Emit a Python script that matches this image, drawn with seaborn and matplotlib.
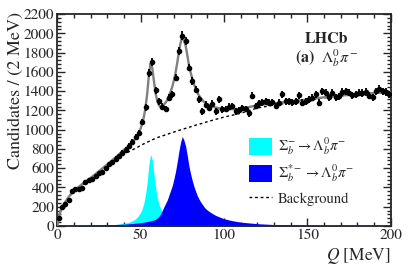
import matplotlib
matplotlib.use('Agg')
import numpy as np
import matplotlib.pyplot as plt
import seaborn as sns
from matplotlib.patches import Patch
from matplotlib.lines import Line2D
from matplotlib.ticker import MultipleLocator

# Данные: число кандидатов в бинах по 2 МэВ (центры бинов 1, 3, ..., 199)
q_bins = np.arange(1, 200, 2)
counts = [85, 195, 230, 265, 360, 380, 385, 395, 455, 480,
          490, 515, 545, 560, 600, 640, 660, 700, 725, 760,
          790, 830, 870, 925, 970, 1080, 1230, 1585, 1700, 1410,
          1295, 1240, 1215, 1330, 1365, 1540, 1815, 1975, 1920, 1645,
          1505, 1415, 1315, 1190, 1260, 1225, 1270, 1190, 1315, 1210,
          1215, 1240, 1245, 1190, 1205, 1225, 1215, 1170, 1350, 1245,
          1275, 1285, 1295, 1280, 1285, 1245, 1280, 1365, 1295, 1295,
          1285, 1295, 1355, 1280, 1295, 1315, 1330, 1365, 1280, 1400,
          1385, 1335, 1385, 1335, 1345, 1390, 1400, 1385, 1355, 1365,
          1385, 1380, 1390, 1350, 1335, 1400, 1425, 1400, 1390, 1365]

# Компоненты фита
q_curve = [0, 1, 2, 3, 4, 6, 8, 10, 12, 15, 20, 25, 30, 35, 40, 42, 44, 46, 48,
           50, 51, 52, 53, 54, 55, 56, 57, 58, 59, 60, 61, 62, 63, 64, 65, 66, 67, 68, 69,
           70, 71, 72, 73, 74, 75, 76, 77, 78, 79, 80, 81, 82, 83, 84, 85, 86, 87, 88, 89, 90,
           92, 95, 100, 105, 110, 120, 130, 140, 150, 160, 170, 180, 190, 200]
background = [0, 95, 155, 195, 225, 275, 320, 355, 385, 425, 485, 550, 615, 680, 745, 762, 780, 798, 816,
              835, 845, 853, 862, 870, 878, 886, 894, 902, 910, 917, 923, 929, 935, 940, 946, 952, 958, 964, 969,
              975, 981, 986, 992, 997, 1003, 1008, 1014, 1019, 1025, 1030, 1035, 1040, 1046, 1051, 1056, 1061, 1066, 1072, 1077, 1082,
              1092, 1107, 1130, 1150, 1170, 1225, 1255, 1280, 1305, 1330, 1350, 1365, 1378, 1390]
sigma_b = [0, 0, 0, 0, 0, 1, 2, 2, 3, 4, 5, 8, 11, 16, 27, 34, 45, 62, 90,
           140, 180, 240, 330, 460, 640, 745, 690, 540, 400, 300, 230, 180, 145, 120, 100, 85, 72, 62, 55,
           48, 44, 40, 37, 34, 32, 30, 28, 26, 25, 24, 23, 22, 21, 20, 19, 18, 17, 16, 15.5, 15,
           14, 12, 9, 7, 6, 4, 3, 2, 1, 1, 0, 0, 0, 0]
sigma_b_star = [0, 1, 1, 2, 2, 3, 4, 5, 5, 6, 8, 10, 12, 15, 19, 21, 24, 27, 31,
                35, 37, 40, 43, 46, 50, 54, 58, 63, 70, 82, 100, 125, 160, 200, 235, 270, 320, 370, 420,
                490, 570, 670, 780, 870, 930, 890, 830, 730, 620, 540, 470, 410, 360, 315, 280, 250, 225, 200, 180, 165,
                140, 110, 75, 55, 40, 24, 15, 10, 7, 5, 4, 3, 2, 2]

total_fit = np.array(background) + np.array(sigma_b) + np.array(sigma_b_star)

sns.set_style('ticks')
plt.rcParams['font.family'] = ['STIXGeneral', 'Liberation Serif', 'DejaVu Serif']
plt.rcParams['mathtext.fontset'] = 'stix'

fig = plt.figure(figsize=(4.11, 2.70), dpi=100)
ax = fig.add_axes([0.139, 0.163, 0.812, 0.785])

ax.fill_between(q_curve, 0, sigma_b, color='#00ffff', lw=0, zorder=1)
ax.fill_between(q_curve, 0, sigma_b_star, color='#0000ff', lw=0, zorder=1.5)
sns.lineplot(x=q_curve, y=background, ax=ax, color='black', lw=1.0,
             linestyle=(0, (2, 2)), zorder=2)
sns.lineplot(x=q_curve, y=total_fit, ax=ax, color='#808080', lw=1.7, zorder=3)
ax.errorbar(q_bins, counts, yerr=np.sqrt(counts), xerr=1, fmt='o', ms=3.0,
            color='black', elinewidth=1.3, capsize=0, zorder=4)

ax.set_xlim(0, 200)
ax.set_ylim(0, 2200)
ax.xaxis.set_major_locator(MultipleLocator(50))
ax.xaxis.set_minor_locator(MultipleLocator(10))
ax.yaxis.set_major_locator(MultipleLocator(200))
ax.yaxis.set_minor_locator(MultipleLocator(40))
ax.tick_params(which='both', direction='in', top=True, right=True, labelsize=11, width=1.0, pad=2)
ax.tick_params(which='major', length=6)
ax.tick_params(which='minor', length=3)
for sp in ax.spines.values():
    sp.set_linewidth(1.3)

ax.set_xlabel(r'$Q$ [MeV]', fontsize=12.5, loc='right')
ax.xaxis.set_label_coords(1.0, -0.095)
ax.set_ylabel('Candidates / (2 MeV)', fontsize=13, loc='top')
ax.yaxis.set_label_coords(-0.1, 1.01)

ax.text(0.808, 0.88, 'LHCb', transform=ax.transAxes, ha='center', va='center',
        fontsize=11.5, fontweight='bold')
ax.text(0.808, 0.79, r'$\mathbf{(a)}\ \ \mathit{\Lambda}_b^0\pi^-$', transform=ax.transAxes,
        ha='center', va='center', fontsize=11.5)

handles = [Patch(facecolor='#00ffff', edgecolor='none'),
           Patch(facecolor='#0000ff', edgecolor='none'),
           Line2D([], [], color='black', lw=1.0, linestyle=(0, (2, 2)))]
labels = [r'$\mathit{\Sigma}_b^{-} \rightarrow \mathit{\Lambda}_b^{0}\pi^{-}$',
          r'$\mathit{\Sigma}_b^{*-} \rightarrow \mathit{\Lambda}_b^{0}\pi^{-}$',
          'Background']
ax.legend(handles, labels, loc='upper left', bbox_to_anchor=(0.575, 0.425),
          frameon=False, fontsize=10.5, handlelength=1.6, handleheight=1.4,
          handletextpad=0.4, labelspacing=0.4, borderpad=0, borderaxespad=0)

fig.savefig('out.png', dpi=100)
